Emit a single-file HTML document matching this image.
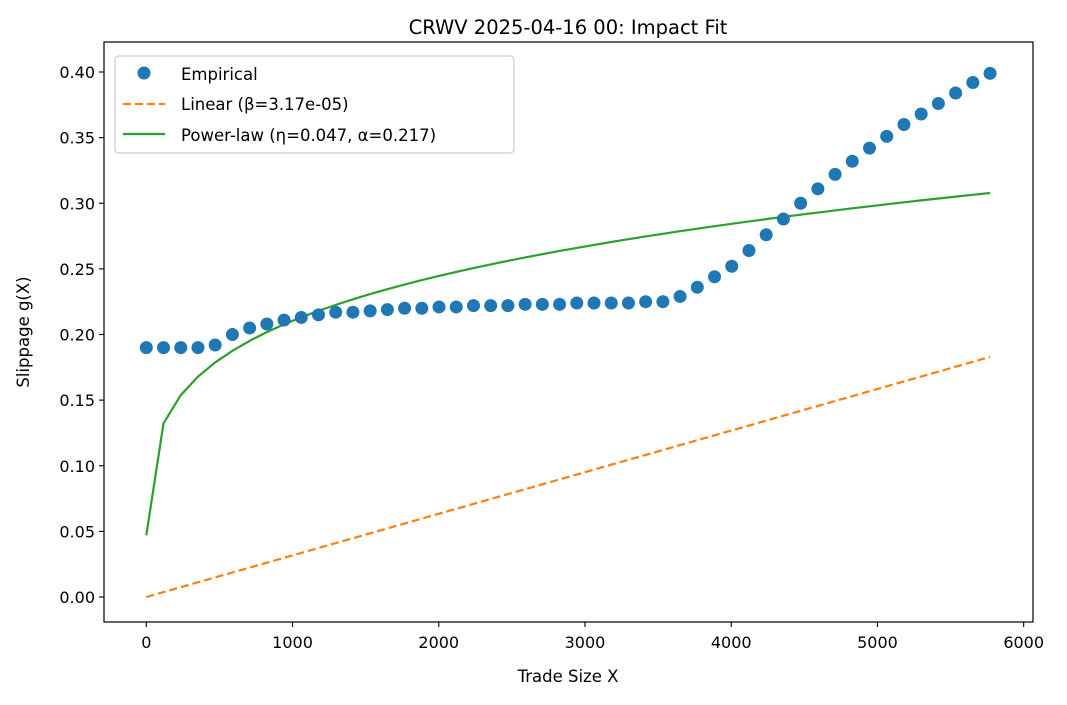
<!DOCTYPE html>
<html><head><meta charset="utf-8"><style>
body{margin:0;background:#fff;font-family:"DejaVu Sans","Liberation Sans",sans-serif;}
svg text{font-family:"DejaVu Sans","Liberation Sans",sans-serif;fill:#000;}
</style></head><body>
<svg id="chart" width="1067" height="701" xmlns="http://www.w3.org/2000/svg">
<rect width="1067" height="701" fill="#fff"/>
<text x="568" y="34" font-size="19.5" text-anchor="middle">CRWV 2025-04-16 00: Impact Fit</text>
<g id="grid"></g>
<g id="series"></g>
<rect x="104" y="42" width="929" height="580" fill="none" stroke="#000" stroke-width="1.2"/>
<text x="568" y="682" font-size="16.5" text-anchor="middle">Trade Size X</text>
<text x="0" y="0" font-size="16.5" text-anchor="middle" transform="translate(29,332) rotate(-90)">Slippage g(X)</text>
<g>
<rect x="115" y="56" width="399" height="97" rx="4" fill="#fff" fill-opacity="0.8" stroke="#ccc" stroke-width="1.2"/>
<circle cx="144" cy="73" r="6.5" fill="#1f77b4"/>
<text x="181" y="80" font-size="16.5">Empirical</text>
<line x1="123" y1="104" x2="165" y2="104" stroke="#ff7f0e" stroke-width="2.2" stroke-dasharray="8,4"/>
<text x="181" y="110" font-size="16.5">Linear (β=3.17e-05)</text>
<line x1="123" y1="134" x2="165" y2="134" stroke="#2ca02c" stroke-width="2.2"/>
<text x="181" y="141" font-size="16.5">Power-law (η=0.047, α=0.217)</text>
</g>
</svg>
<script>
const xTicks=[0,1000,2000,3000,4000,5000,6000];
const yTicks=[0,0.05,0.10,0.15,0.20,0.25,0.30,0.35,0.40];
const xMax=5770;
const nPoints=50;
const empirical=[0.190,0.190,0.190,0.190,0.192,0.200,0.205,0.208,0.211,0.213,0.215,0.217,0.217,0.218,0.219,0.220,0.220,0.221,0.221,0.222,0.222,0.222,0.223,0.223,0.223,0.224,0.224,0.224,0.224,0.225,0.225,0.229,0.236,0.244,0.252,0.264,0.276,0.288,0.300,0.311,0.322,0.332,0.342,0.351,0.360,0.368,0.376,0.384,0.392,0.399];
const beta=3.17e-5;
const eta=0.047;
const alpha=0.217;
const NS="http://www.w3.org/2000/svg";
function sx(v){return 146.3+v*0.14623;}
function sy(v){return 597-v*1312.5;}
const grid=document.getElementById('grid');
const ser=document.getElementById('series');
function mk(tag,at,parent){const e=document.createElementNS(NS,tag);for(const k in at)e.setAttribute(k,at[k]);parent.appendChild(e);return e;}
xTicks.forEach(t=>{
 const l=mk('line',{x1:sx(t),x2:sx(t),y1:622,y2:627,stroke:'#000','stroke-width':1.1},grid);
 
 
 const tx=mk('text',{x:sx(t),y:648,'font-size':16,'text-anchor':'middle'},grid);
 tx.textContent=String(t);
 
 
});
yTicks.forEach(t=>{
 const l=mk('line',{x1:99,x2:104,y1:sy(t),y2:sy(t),stroke:'#000','stroke-width':1.1},grid);
 
 
 const tx=mk('text',{x:95,y:sy(t)+6,'font-size':16,'text-anchor':'end'},grid);
 tx.textContent=t.toFixed(2);
 
 
});
const xs=[];for(let i=0;i<nPoints;i++)xs.push(i*xMax/(nPoints-1));
const lin=mk('polyline',{points:xs.map(x=>sx(x)+','+sy(beta*x)).join(' '),fill:'none',stroke:'#ff7f0e','stroke-width':2.2,'stroke-dasharray':'8,4'},ser);


const pw=mk('polyline',{points:xs.map(x=>sx(x)+','+sy(eta*Math.pow(Math.max(x,1),alpha))).join(' '),fill:'none',stroke:'#2ca02c','stroke-width':2.2},ser);


empirical.forEach((v,i)=>{
 const c=mk('circle',{cx:sx(xs[i]),cy:sy(v),r:6.5,fill:'#1f77b4'},ser);
 
 
});
</script>
</body></html>
